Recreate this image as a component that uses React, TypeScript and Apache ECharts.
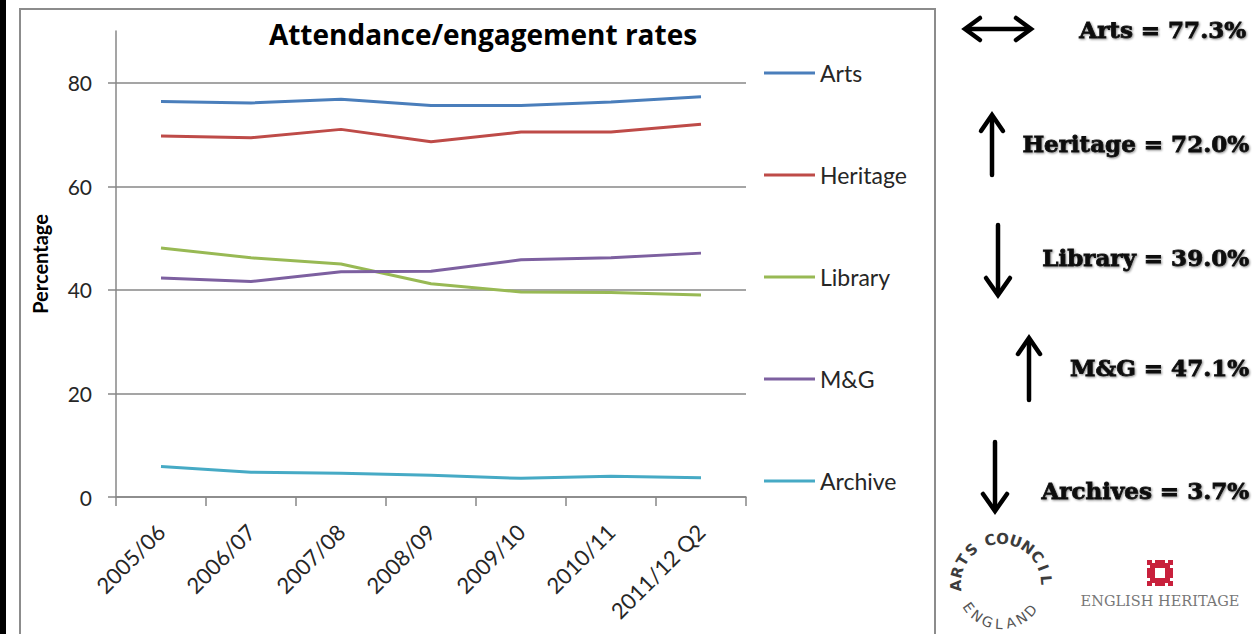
import React, { useEffect, useRef } from 'react';
import * as echarts from 'echarts';

const categories = ['2005/06', '2006/07', '2007/08', '2008/09', '2009/10', '2010/11', '2011/12 Q2'];
const arts = [76.4, 76.1, 76.8, 75.6, 75.6, 76.3, 77.3];
const heritage = [69.7, 69.4, 71.0, 68.6, 70.5, 70.5, 72.0];
const library = [48.1, 46.2, 45.0, 41.2, 39.6, 39.5, 39.0];
const mg = [42.3, 41.6, 43.5, 43.6, 45.8, 46.2, 47.1];
const archive = [5.9, 4.8, 4.6, 4.2, 3.6, 4.0, 3.7];

const seriesNames = ['Arts', 'Heritage', 'Library', 'M&G', 'Archive'];
const seriesData = [arts, heritage, library, mg, archive];
const seriesColors = ['#4A7EBB', '#BE4B48', '#98B954', '#7D60A0', '#46AAC5'];
const yTicks = [0, 20, 40, 60, 80];

const summaryLabels = ['Arts = 77.3%', 'Heritage = 72.0%', 'Library = 39.0%', 'M&G = 47.1%', 'Archives = 3.7%'];
const summaryTrend = ['both', 'up', 'down', 'up', 'down'];

const titleText = 'Attendance/engagement rates';
const yAxisName = 'Percentage';
const logoTop = 'ARTS COUNCIL';
const logoBottom = 'ENGLAND';
const logo2Text = 'ENGLISH HERITAGE';

function buildGraphics() {
  const g: any[] = [];
  // left black bar
  g.push({ type: 'rect', shape: { x: 0, y: 0, width: 6, height: 634 }, style: { fill: '#000' } });
  // chart area border
  g.push({ type: 'rect', shape: { x: 20, y: 9, width: 915, height: 640 }, style: { fill: 'none', stroke: '#8c8c8c', lineWidth: 2 } });
  // title
  g.push({
    type: 'text', x: 483, y: 34,
    style: { text: titleText, fontFamily: 'Open Sans', fontWeight: 'bold', fontSize: 28, fill: '#000', align: 'center', verticalAlign: 'middle' },
  });

  // summary texts and arrows
  const textY = [29, 143, 257, 367, 490];
  const arrowX = [998, 992, 998, 1029, 995];
  const arrowTop = [29, 115, 225, 338, 442];
  const arrowBot = [29, 175, 295, 400, 511];
  const stroke = { stroke: '#000', lineWidth: 4.5, lineCap: 'round', lineJoin: 'miter', fill: 'none' };
  summaryTrend.forEach((t, i) => {
    g.push({
      type: 'text', x: i === 0 ? 1246 : 1249, y: textY[i],
      style: {
        text: summaryLabels[i], fontFamily: 'DejaVu Serif', fontWeight: 'bold', fontSize: 23, fill: '#111',
        stroke: '#111', lineWidth: 0.8,
        align: 'right', verticalAlign: 'middle',
        textShadowColor: 'rgba(0,0,0,0.45)', textShadowBlur: 2, textShadowOffsetX: 1, textShadowOffsetY: 1,
      },
    });
    const x = arrowX[i];
    if (t === 'both') {
      g.push({ type: 'line', shape: { x1: 967, y1: 29, x2: 1029, y2: 29 }, style: stroke });
      g.push({ type: 'polyline', shape: { points: [[980, 18], [965, 29], [980, 40]] }, style: stroke });
      g.push({ type: 'polyline', shape: { points: [[1016, 18], [1031, 29], [1016, 40]] }, style: stroke });
    } else if (t === 'up') {
      g.push({ type: 'line', shape: { x1: x, y1: arrowTop[i] + 2, x2: x, y2: arrowBot[i] }, style: stroke });
      g.push({ type: 'polyline', shape: { points: [[x - 11, arrowTop[i] + 16], [x, arrowTop[i]], [x + 11, arrowTop[i] + 16]] }, style: stroke });
    } else {
      g.push({ type: 'line', shape: { x1: x, y1: arrowTop[i], x2: x, y2: arrowBot[i] - 2 }, style: stroke });
      g.push({ type: 'polyline', shape: { points: [[x - 12, arrowBot[i] - 17], [x, arrowBot[i]], [x + 12, arrowBot[i] - 17]] }, style: stroke });
    }
  });

  // Arts Council England logo (letters around a circle)
  const cx = 1001, cy = 584;
  const topAngles = [178, 195, 212, 229, 0, 256, 272, 289, 306, 323, 339, 355];
  logoTop.split('').forEach((ch, i) => {
    if (ch === ' ') return;
    const th = (topAngles[i] * Math.PI) / 180;
    g.push({
      type: 'text', x: cx + 45 * Math.cos(th), y: cy + 45 * Math.sin(th),
      rotation: -((topAngles[i] + 90) * Math.PI) / 180,
      style: { text: ch, fontFamily: 'DejaVu Sans', fontWeight: 'bold', fontSize: 15, fill: '#3c3c3c', align: 'center', verticalAlign: 'middle' },
    });
  });
  const botAngles = [144, 127, 110, 93, 76, 59, 42];
  logoBottom.split('').forEach((ch, i) => {
    const th = (botAngles[i] * Math.PI) / 180;
    g.push({
      type: 'text', x: cx + 40 * Math.cos(th), y: cy + 40 * Math.sin(th),
      rotation: ((90 - botAngles[i]) * Math.PI) / 180,
      style: { text: ch, fontFamily: 'DejaVu Sans', fontSize: 14, fill: '#555', align: 'center', verticalAlign: 'middle' },
    });
  });

  // English Heritage logo
  const red = '#c8203c';
  g.push({ type: 'rect', shape: { x: 1147, y: 560, width: 26, height: 26 }, style: { fill: red } });
  g.push({ type: 'rect', shape: { x: 1155, y: 568, width: 10, height: 10 }, style: { fill: '#fff' } });
  const notches = [
    [1152, 560, 3, 3], [1165, 560, 3, 3], [1152, 583, 3, 3], [1165, 583, 3, 3],
    [1147, 565, 3, 3], [1147, 578, 3, 3], [1170, 565, 3, 3], [1170, 578, 3, 3],
  ];
  notches.forEach((n) => g.push({ type: 'rect', shape: { x: n[0], y: n[1], width: n[2], height: n[3] }, style: { fill: '#fff' } }));
  g.push({
    type: 'text', x: 1160, y: 601,
    style: { text: logo2Text, fontFamily: 'DejaVu Serif', fontSize: 14.5, fill: '#777', align: 'center', verticalAlign: 'middle' },
  });
  return g;
}

export default function App() {
  const ref = useRef<HTMLDivElement>(null);
  useEffect(() => {
    if (!ref.current) return;
    const chart = echarts.init(ref.current, null, { renderer: 'svg' });
    const labelColor = '#262626';
    chart.setOption({
      animation: false,
      backgroundColor: '#fff',
      textStyle: { fontFamily: 'Lato' },
      grid: { left: 116, right: 508, top: 31, bottom: 137, containLabel: false },
      legend: {
        orient: 'vertical', left: 764, top: 61, padding: 0, itemGap: 78, itemWidth: 51, itemHeight: 3, icon: 'rect',
        selectedMode: false,
        textStyle: { fontFamily: 'Lato', fontSize: 23, color: labelColor, lineHeight: 24 },
        data: seriesNames,
      },
      xAxis: {
        type: 'category', data: categories, boundaryGap: true,
        axisLine: { lineStyle: { color: '#878787', width: 1.5 } },
        axisTick: { show: true, length: 9, alignWithLabel: false, lineStyle: { color: '#878787', width: 1.5 } },
        axisLabel: { rotate: 45, margin: 31, fontSize: 22, color: labelColor, fontFamily: 'Lato', interval: 0 },
        splitLine: { show: false },
      },
      yAxis: {
        type: 'value', min: 0, max: 90, interval: 20,
        name: yAxisName, nameLocation: 'middle', nameRotate: 90, nameGap: 66,
        nameTextStyle: { fontFamily: 'Lato', fontWeight: 'bold', fontSize: 20, color: '#000' },
        axisLine: { show: true, lineStyle: { color: '#878787', width: 1.5 } },
        axisTick: { show: true, length: 8, customValues: yTicks, lineStyle: { color: '#878787', width: 1.5 } },
        axisLabel: { margin: 24, fontSize: 21, color: labelColor, fontFamily: 'Lato', customValues: yTicks },
        splitLine: { show: true, lineStyle: { color: '#878787', width: 1.5 } },
      },
      series: seriesNames.map((n, i) => ({
        name: n, type: 'line', data: seriesData[i], symbol: 'none', smooth: false,
        lineStyle: { width: 3, color: seriesColors[i] }, itemStyle: { color: seriesColors[i] },
      })),
      graphic: buildGraphics(),
    });
    return () => chart.dispose();
  }, []);
  return <div ref={ref} style={{ position: 'absolute', left: 0, top: 0, width: 1254, height: 634, background: '#fff' }} />;
}
